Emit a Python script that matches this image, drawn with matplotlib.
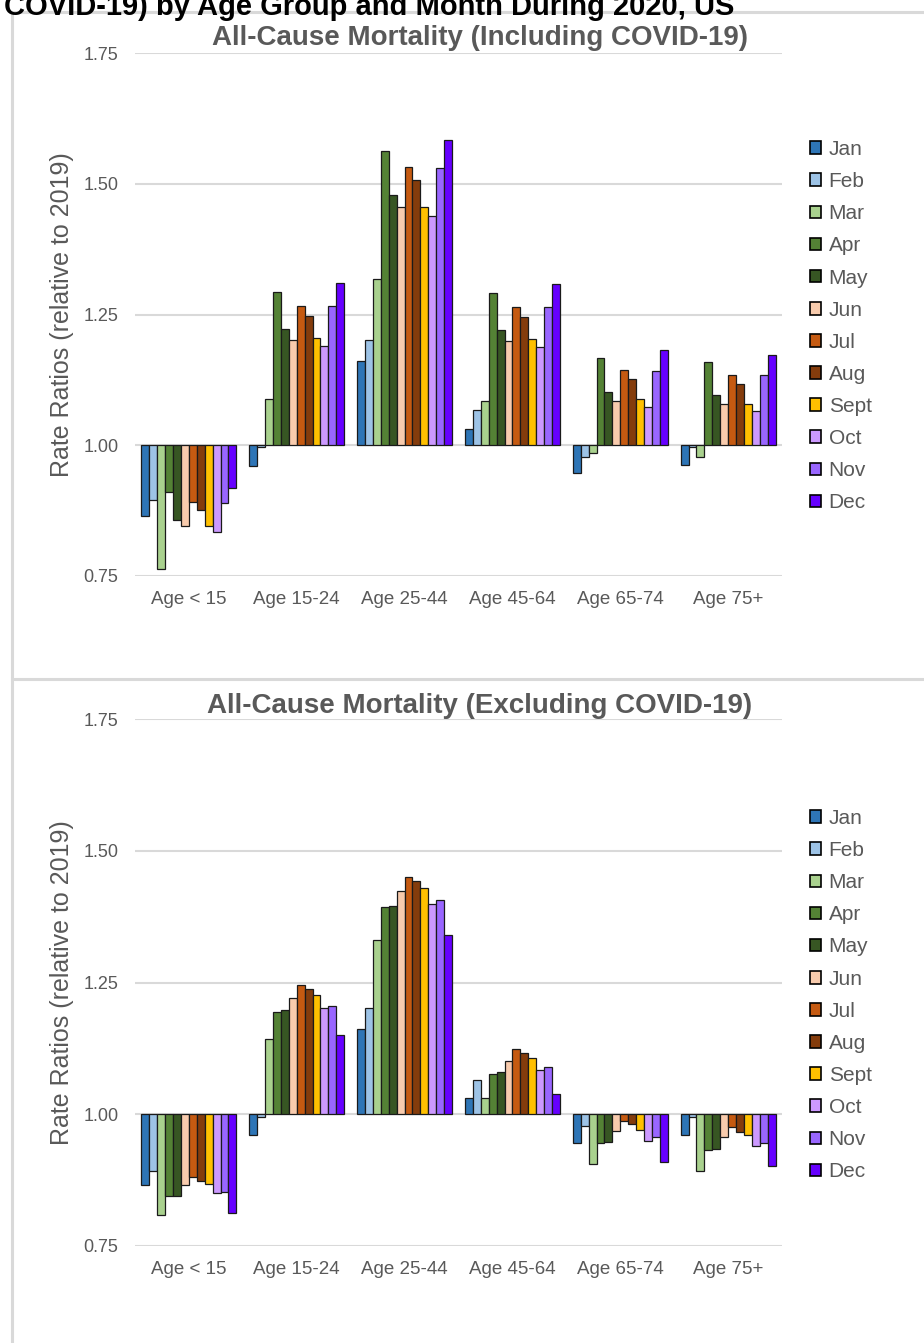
import matplotlib
matplotlib.use('Agg')
import matplotlib.pyplot as plt
from matplotlib.patches import Patch
from matplotlib.lines import Line2D
import numpy as np

plt.rcParams['font.family'] = ['Liberation Sans', 'DejaVu Sans']

groups = ['Age < 15', 'Age 15-24', 'Age 25-44', 'Age 45-64', 'Age 65-74', 'Age 75+']
months = ['Jan', 'Feb', 'Mar', 'Apr', 'May', 'Jun', 'Jul', 'Aug', 'Sept', 'Oct', 'Nov', 'Dec']
colors = ['#2E75B6', '#9DC3E6', '#A9D18E', '#548235', '#375623', '#F8CBAD',
          '#C55A11', '#843C0C', '#FFC000', '#CC99FF', '#9966FF', '#6600FF']

# rate ratios, one row per month, one column per age group
incl_covid = [
    [0.864, 0.960, 1.161, 1.032, 0.946, 0.962],
    [0.895, 0.996, 1.201, 1.067, 0.977, 0.996],
    [0.764, 1.088, 1.318, 1.085, 0.985, 0.977],
    [0.910, 1.293, 1.563, 1.291, 1.166, 1.159],
    [0.858, 1.222, 1.479, 1.220, 1.102, 1.096],
    [0.845, 1.201, 1.456, 1.200, 1.084, 1.078],
    [0.891, 1.266, 1.532, 1.264, 1.144, 1.134],
    [0.877, 1.247, 1.508, 1.245, 1.126, 1.117],
    [0.845, 1.205, 1.456, 1.203, 1.088, 1.078],
    [0.835, 1.190, 1.439, 1.188, 1.073, 1.065],
    [0.889, 1.266, 1.530, 1.264, 1.142, 1.134],
    [0.919, 1.310, 1.584, 1.308, 1.182, 1.172],
]
excl_covid = [
    [0.865, 0.960, 1.162, 1.031, 0.945, 0.960],
    [0.893, 0.994, 1.202, 1.065, 0.977, 0.994],
    [0.809, 1.143, 1.330, 1.031, 0.905, 0.893],
    [0.845, 1.194, 1.393, 1.076, 0.945, 0.933],
    [0.845, 1.197, 1.395, 1.080, 0.947, 0.935],
    [0.865, 1.221, 1.424, 1.101, 0.968, 0.956],
    [0.880, 1.245, 1.450, 1.124, 0.987, 0.975],
    [0.874, 1.238, 1.443, 1.116, 0.981, 0.966],
    [0.868, 1.226, 1.429, 1.107, 0.971, 0.960],
    [0.851, 1.202, 1.399, 1.084, 0.950, 0.939],
    [0.853, 1.206, 1.406, 1.090, 0.956, 0.945],
    [0.813, 1.150, 1.341, 1.038, 0.910, 0.901],
]

W, H = 924, 1343
fig = plt.figure(figsize=(W / 100, H / 100), dpi=100)
gray = '#595959'
grid = '#D9D9D9'

def fx(px):
    return px / W

def fy(py):
    return 1 - py / H

# frame lines of the two pasted panels
for xs, ys in [((12, 12), (12, H)), ((12, W), (12, 12)), ((12, W), (679, 679))]:
    fig.add_artist(Line2D([fx(xs[0]), fx(xs[1])], [fy(ys[0]), fy(ys[1])],
                          color=grid, lw=2.2))

fig.text(fx(4), fy(15), 'COVID-19) by Age Group and Month During 2020, US',
         fontsize=21, fontweight='bold', color='black', ha='left', va='baseline')

panels = [
    (incl_covid, 'All-Cause Mortality (Including COVID-19)', 53, 576, 38, 151),
    (excl_covid, 'All-Cause Mortality (Excluding COVID-19)', 719, 1246, 706, 820),
]

x = np.arange(len(groups))
bw = 0.88 / len(months)

for data, title, ytop, ybot, ytitle, yleg in panels:
    ax = fig.add_axes([fx(135), fy(ybot), fx(782 - 135), (ybot - ytop) / H])
    for i, m in enumerate(months):
        vals = np.array(data[i])
        ax.bar(x - 0.44 + bw * (i + 0.5), vals - 1.0, bottom=1.0, width=bw,
               color=colors[i], edgecolor='#1a1a1a', linewidth=0.9, zorder=3)
    ax.set_xlim(-0.5, len(groups) - 0.5)
    ax.set_ylim(0.75, 1.75)
    ax.set_yticks([0.75, 1.00, 1.25, 1.50, 1.75])
    ax.set_yticklabels(['0.75', '1.00', '1.25', '1.50', '1.75'])
    ax.set_xticks(x)
    ax.set_xticklabels(groups)
    ax.tick_params(axis='both', length=0, labelsize=13, labelcolor=gray)
    ax.tick_params(axis='x', labelsize=13.5)
    ax.tick_params(axis='y', pad=12)
    ax.tick_params(axis='x', pad=11)
    ax.grid(axis='y', color=grid, lw=1.5, zorder=0)
    for s in ax.spines.values():
        s.set_visible(False)
    ax.set_ylabel('Rate Ratios (relative to 2019)', fontsize=18, color=gray)
    ax.yaxis.set_label_coords(-0.094, 0.5)
    fig.text(fx(480), fy(ytitle), title, fontsize=20, fontweight='bold',
             color=gray, ha='center', va='center')
    handles = [Patch(facecolor=c, edgecolor='black', linewidth=1.2) for c in colors]
    ax.legend(handles, months, loc='upper left',
              bbox_to_anchor=(fx(810), fy(yleg - 11)), bbox_transform=fig.transFigure,
              frameon=False, fontsize=15, labelcolor=gray, handlelength=0.55,
              handleheight=0.55, handletextpad=0.35, labelspacing=0.63,
              borderpad=0, borderaxespad=0)

fig.savefig('out.png', dpi=100)
